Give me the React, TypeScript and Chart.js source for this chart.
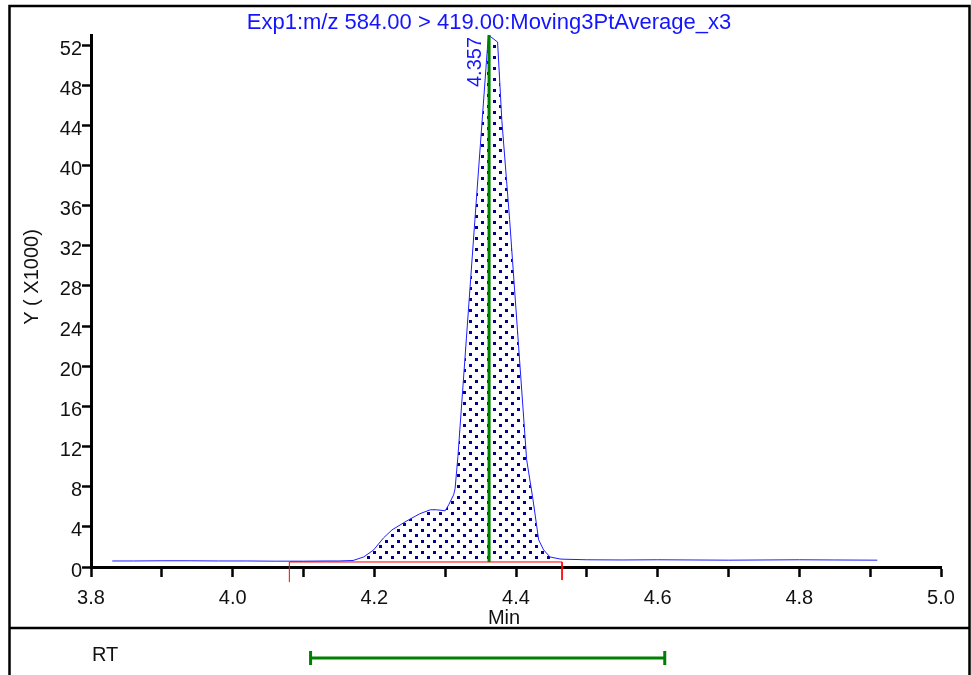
import React, { useEffect, useRef } from "react";
import { Chart, registerables } from "chart.js";

Chart.register(...registerables);

// ---- data ----
const TRACE_TIME = [
  3.83, 3.86, 3.9, 3.94, 3.98, 4.02, 4.06, 4.08, 4.1, 4.13, 4.15, 4.17, 4.185, 4.199, 4.213,
  4.225, 4.246, 4.264, 4.279, 4.288, 4.3, 4.305, 4.312, 4.314, 4.318, 4.342, 4.361, 4.374,
  4.38, 4.391, 4.415, 4.424, 4.432, 4.439, 4.448, 4.462, 4.465, 4.5, 4.55, 4.6, 4.65, 4.7,
  4.75, 4.8, 4.85, 4.91,
];
const TRACE_INTENSITY = [
  0.6, 0.6, 0.62, 0.62, 0.6, 0.6, 0.58, 0.58, 0.58, 0.6, 0.6, 0.65, 1.0, 1.7, 2.9,
  3.7, 4.6, 5.3, 5.7, 5.7, 5.6, 6.2, 7.2, 7.8, 11.0, 34.6, 53.0, 52.3,
  44.5, 34.6, 10.7, 6.7, 2.7, 1.7, 1.0, 0.8, 0.78, 0.72, 0.7, 0.72, 0.7, 0.68,
  0.7, 0.72, 0.7, 0.68,
];
const INTEGRATION = [4.08, 4.465];
const BASELINE = 0.5;
const PEAK_RT = 4.362;
const PEAK_LABEL = "4.357";
const RT_WINDOW = [4.11, 4.61];
const X_RANGE = [3.8, 5.0];
const X_STEP = 0.1;
const Y_RANGE = [0, 53];
const Y_TICKS = [0, 4, 8, 12, 16, 20, 24, 28, 32, 36, 40, 44, 48, 52];
const TITLE = "Exp1:m/z 584.00 > 419.00:Moving3PtAverage_x3";
const Y_TITLE = "Y ( X1000)";
const X_TITLE = "Min";
const RT_TEXT = "RT";

const FONT = "'Liberation Sans', Arial, sans-serif";

export default function App() {
  const ref = useRef<HTMLCanvasElement | null>(null);

  useEffect(() => {
    const canvas = ref.current!;
    const ctx = canvas.getContext("2d")!;

    const tile = document.createElement("canvas");
    tile.width = 12;
    tile.height = 11;
    const tg = tile.getContext("2d")!;
    tg.fillStyle = "#00008b";
    tg.fillRect(1, 1, 3, 3);
    tg.fillRect(7, 6, 3, 3);
    const pattern = ctx.createPattern(tile, "repeat")!;

    const trace = TRACE_TIME.map((t, i) => ({ x: t, y: TRACE_INTENSITY[i] }));
    const fillPts = trace.filter((p) => p.x >= INTEGRATION[0] && p.x <= INTEGRATION[1]);

    const decor = {
      id: "decor",
      beforeDraw(chart: any) {
        const c = chart.ctx;
        c.save();
        c.fillStyle = "#fff";
        c.fillRect(0, 0, chart.width, chart.height);
        c.restore();
      },
      afterDraw(chart: any) {
        const c = chart.ctx;
        const xs = chart.scales.x;
        const ys = chart.scales.y;
        c.save();
        // frame
        c.strokeStyle = "#000";
        c.lineWidth = 2.5;
        c.beginPath();
        c.moveTo(9.5, 700);
        c.lineTo(9.5, 6);
        c.lineTo(969.5, 6);
        c.lineTo(969.5, 700);
        c.moveTo(9.5, 628);
        c.lineTo(969.5, 628);
        c.stroke();

        // title
        c.fillStyle = "#1414ff";
        c.font = `22px ${FONT}`;
        c.textAlign = "center";
        c.textBaseline = "alphabetic";
        c.fillText(TITLE, 489, 29);

        // peak label (rotated)
        const px = xs.getPixelForValue(PEAK_RT);
        c.save();
        c.translate(px - 8, ys.getPixelForValue(Y_RANGE[1]) + 2);
        c.rotate(-Math.PI / 2);
        c.textAlign = "right";
        c.font = `20px ${FONT}`;
        c.fillText(PEAK_LABEL, 0, 0);
        c.restore();

        // y title
        c.fillStyle = "#111";
        c.save();
        c.translate(38, 277);
        c.rotate(-Math.PI / 2);
        c.textAlign = "center";
        c.font = `20px ${FONT}`;
        c.fillText(Y_TITLE, 0, 0);
        c.restore();

        // x title
        c.font = `20px ${FONT}`;
        c.textAlign = "center";
        c.fillText(X_TITLE, (xs.left + xs.right) / 2 - 12, 624);

        // RT panel
        c.textAlign = "left";
        c.fillText(RT_TEXT, 92, 661);
        const x0 = xs.getPixelForValue(RT_WINDOW[0]);
        const x1 = xs.getPixelForValue(RT_WINDOW[1]);
        c.strokeStyle = "#008000";
        c.lineWidth = 3;
        c.beginPath();
        c.moveTo(x0, 658);
        c.lineTo(x1, 658);
        c.moveTo(x0, 651);
        c.lineTo(x0, 665);
        c.moveTo(x1, 651);
        c.lineTo(x1, 665);
        c.stroke();
        c.restore();
      },
    };

    const chart = new Chart(ctx, {
      type: "line",
      data: {
        datasets: [
          {
            data: [
              { x: PEAK_RT, y: BASELINE },
              { x: PEAK_RT, y: Y_RANGE[1] },
            ],
            borderColor: "#008000",
            borderWidth: 3,
            pointRadius: 0,
            fill: false,
            order: 0,
          },
          {
            data: trace,
            borderColor: "#1e1eff",
            borderWidth: 1,
            pointRadius: 0,
            tension: 0,
            fill: false,
            order: 1,
          },
          {
            data: [
              { x: INTEGRATION[0], y: -1.5 },
              { x: INTEGRATION[0], y: BASELINE },
              { x: INTEGRATION[1], y: BASELINE },
              { x: INTEGRATION[1], y: -1.3 },
            ],
            borderColor: "#ff0000",
            borderWidth: 1,
            pointRadius: 0,
            fill: false,
            clip: false as any,
            order: 2,
          },
          {
            data: fillPts,
            borderWidth: 0,
            borderColor: "rgba(0,0,0,0)",
            backgroundColor: pattern as any,
            pointRadius: 0,
            tension: 0,
            fill: { value: BASELINE },
            order: 3,
          },
        ],
      },
      options: {
        animation: false,
        responsive: false,
        devicePixelRatio: 1,
        layout: { padding: { top: 35, right: 30, bottom: 0, left: 0 } },
        plugins: {
          legend: { display: false },
          tooltip: { enabled: false },
          title: { display: false },
        },
        scales: {
          x: {
            type: "linear",
            min: X_RANGE[0],
            max: X_RANGE[1],
            afterFit: (s: any) => {
              s.height = 108;
            },
            grid: {
              drawOnChartArea: false,
              drawTicks: true,
              tickLength: 10,
              tickColor: "#000",
              tickWidth: 2.5,
            },
            border: { display: true, color: "#000", width: 3 },
            ticks: {
              stepSize: X_STEP,
              autoSkip: false,
              maxRotation: 0,
              padding: 9,
              color: "#111",
              font: { family: FONT, size: 20 },
              callback: (v: any) => (Math.round(Number(v) * 10) % 2 === 0 ? Number(v).toFixed(1) : ""),
            },
          },
          y: {
            type: "linear",
            min: Y_RANGE[0],
            max: Y_RANGE[1],
            afterFit: (s: any) => {
              s.width = 91;
            },
            afterBuildTicks: (s: any) => {
              s.ticks = Y_TICKS.map((v) => ({ value: v }));
            },
            grid: {
              drawOnChartArea: false,
              drawTicks: true,
              tickLength: 9,
              tickColor: "#000",
              tickWidth: 2.5,
            },
            border: { display: true, color: "#000", width: 3 },
            ticks: {
              padding: 0,
              labelOffset: 4,
              color: "#111",
              font: { family: FONT, size: 20 },
              callback: (v: any) => String(v),
            },
          },
        },
      },
      plugins: [decor],
    });

    return () => chart.destroy();
  }, []);

  return (
    <div style={{ position: "fixed", left: 0, top: 0, width: 971, height: 675 }}>
      <canvas ref={ref} width={971} height={675} style={{ width: 971, height: 675, display: "block" }} />
    </div>
  );
}
